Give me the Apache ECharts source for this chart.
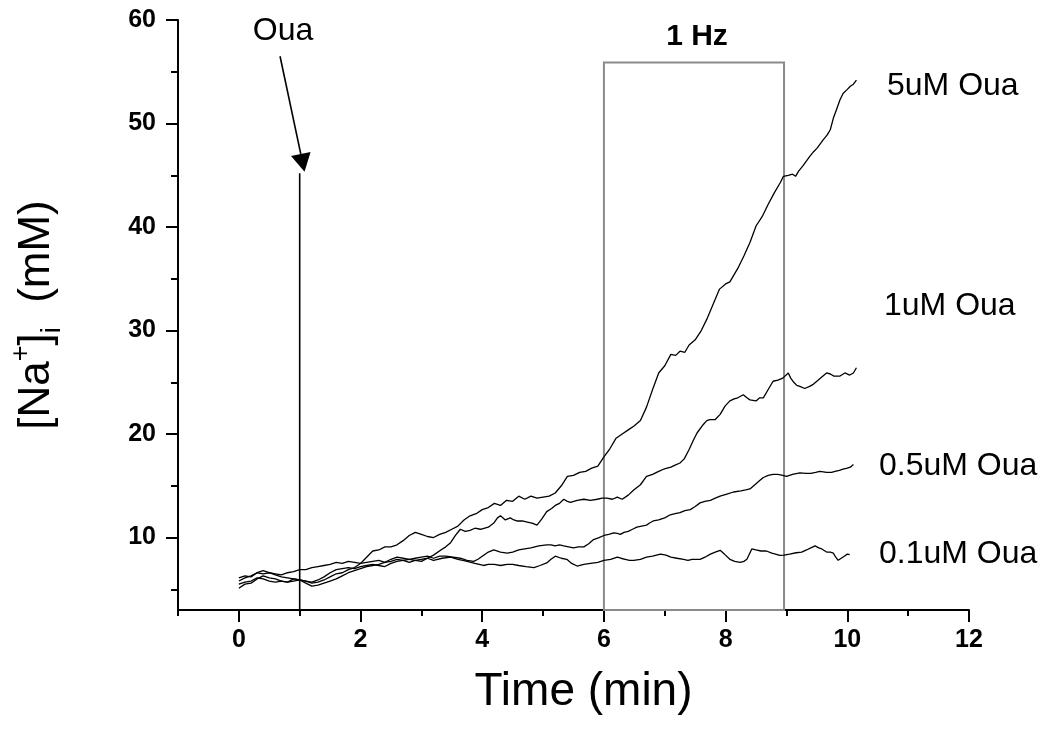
<!DOCTYPE html>
<html>
<head>
<meta charset="utf-8">
<script src="https://cdn.jsdelivr.net/npm/echarts@6/dist/echarts.min.js"></script>
<style>html,body{margin:0;padding:0;background:#fff;}#c{width:1050px;height:735px;}</style>
</head>
<body>
<div id="c"></div>
<script>
// ---- data ----
const xLabels = [0, 2, 4, 6, 8, 10, 12];
const xMinorTicks = [-1, 1, 3, 5, 7, 9, 11];
const yLabels = [10, 20, 30, 40, 50, 60];
const yMinorTicks = [5, 15, 25, 35, 45, 55];
const seriesNames = ['5uM Oua', '1uM Oua', '0.5uM Oua', '0.1uM Oua'];

const trace5uM = [[0,5.1],[0.1,5.5],[0.2,5.6],[0.3,6.0],[0.4,6.3],[0.5,6.1],[0.6,6.0],[0.7,5.8],[0.8,5.7],[0.9,6.0],[1.0,5.9],[1.1,5.8],[1.2,5.6],[1.3,5.7],[1.4,5.9],[1.5,6.2],[1.6,6.5],[1.7,6.6],[1.8,6.9],[1.9,7.1],[2.0,7.5],[2.1,8.1],[2.2,8.7],[2.3,8.8],[2.4,9.1],[2.5,9.1],[2.6,9.3],[2.7,9.7],[2.8,10.2],[2.9,10.5],[3.0,10.3],[3.1,10.1],[3.2,10.0],[3.3,10.3],[3.4,10.5],[3.5,10.8],[3.6,11.1],[3.7,11.7],[3.8,12.1],[3.9,12.3],[4.0,12.7],[4.1,12.9],[4.2,13.3],[4.3,13.1],[4.4,13.6],[4.5,13.5],[4.6,14.0],[4.7,13.7],[4.8,14.0],[4.9,13.8],[5.0,13.9],[5.1,14.0],[5.2,14.3],[5.3,15.0],[5.4,15.9],[5.5,16.0],[5.6,16.3],[5.7,16.4],[5.8,16.7],[5.9,16.9],[6.0,17.8],[6.1,18.6],[6.2,19.6],[6.3,20.0],[6.4,20.4],[6.5,20.8],[6.6,21.3],[6.7,22.6],[6.8,24.3],[6.9,25.9],[7.0,26.6],[7.1,27.7],[7.18,27.6],[7.25,28.0],[7.33,27.9],[7.4,28.6],[7.5,29.1],[7.6,30.0],[7.7,31.2],[7.8,32.6],[7.9,34.0],[8.0,34.5],[8.07,34.7],[8.13,35.3],[8.2,36.0],[8.3,37.2],[8.4,38.5],[8.5,40.1],[8.6,41.0],[8.7,42.2],[8.8,43.3],[8.9,44.3],[8.95,44.9],[9.03,45.0],[9.1,45.1],[9.15,44.9],[9.2,45.4],[9.27,45.9],[9.38,46.8],[9.45,47.3],[9.5,47.6],[9.6,48.4],[9.67,48.9],[9.72,49.4],[9.77,50.5],[9.82,51.3],[9.88,52.3],[9.93,52.9],[10.0,53.3],[10.05,53.6],[10.1,53.8],[10.15,54.2]];

const trace1uM = [[0,5.8],[0.1,6.1],[0.2,6.3],[0.3,6.6],[0.4,6.5],[0.5,6.6],[0.6,6.5],[0.7,6.4],[0.8,6.6],[0.9,6.7],[1.0,6.9],[1.1,6.9],[1.2,7.1],[1.3,7.2],[1.4,7.3],[1.5,7.4],[1.6,7.6],[1.7,7.5],[1.8,7.7],[1.9,7.6],[2.0,7.5],[2.1,7.6],[2.2,7.7],[2.3,7.8],[2.4,7.6],[2.5,7.9],[2.6,8.1],[2.7,8.0],[2.8,7.9],[2.9,7.8],[3.0,7.7],[3.1,8.0],[3.2,8.3],[3.32,8.8],[3.4,9.1],[3.48,9.5],[3.56,10.2],[3.64,10.8],[3.72,10.6],[3.8,10.7],[3.88,10.9],[3.97,10.8],[4.1,11.0],[4.19,11.4],[4.25,11.9],[4.3,12.1],[4.38,11.7],[4.46,11.9],[4.52,11.7],[4.57,11.6],[4.66,11.6],[4.74,11.5],[4.82,11.4],[4.9,11.2],[4.98,11.8],[5.06,12.5],[5.14,12.8],[5.2,13.1],[5.27,13.3],[5.34,13.7],[5.4,13.5],[5.45,13.4],[5.56,13.6],[5.67,13.7],[5.78,13.6],[5.89,13.7],[5.97,13.8],[6.05,13.8],[6.14,13.7],[6.22,13.9],[6.3,13.7],[6.4,14.1],[6.49,14.6],[6.6,15.1],[6.7,15.9],[6.8,16.1],[6.9,16.4],[6.98,16.6],[7.1,16.8],[7.17,17.0],[7.25,17.2],[7.32,17.6],[7.4,18.5],[7.47,19.4],[7.53,20.1],[7.63,20.9],[7.69,21.3],[7.74,21.4],[7.83,21.4],[7.91,21.9],[7.99,22.7],[8.07,23.2],[8.14,23.4],[8.2,23.5],[8.29,23.8],[8.35,23.5],[8.4,23.3],[8.5,23.2],[8.56,23.5],[8.62,23.5],[8.7,24.3],[8.78,25.1],[8.86,25.2],[8.94,25.4],[9.03,25.9],[9.07,25.4],[9.12,25.0],[9.17,24.7],[9.22,24.6],[9.3,24.4],[9.38,24.6],[9.44,24.8],[9.5,25.1],[9.58,25.5],[9.66,25.9],[9.72,25.8],[9.78,25.6],[9.88,25.6],[9.96,25.9],[10.04,25.7],[10.1,25.9],[10.15,26.4]];

const trace05uM = [[0,6.1],[0.1,6.3],[0.2,6.2],[0.3,6.6],[0.4,6.8],[0.5,6.6],[0.6,6.4],[0.7,6.2],[0.8,6.1],[0.9,6.0],[1.0,5.9],[1.1,5.8],[1.2,5.7],[1.3,5.9],[1.4,6.2],[1.5,6.6],[1.6,6.9],[1.7,7.0],[1.8,7.1],[1.9,7.0],[2.0,7.2],[2.1,7.3],[2.2,7.4],[2.3,7.3],[2.4,7.2],[2.5,7.5],[2.6,7.7],[2.7,7.8],[2.8,7.9],[2.9,8.0],[3.0,8.1],[3.1,8.2],[3.2,8.0],[3.3,8.2],[3.4,8.2],[3.52,8.1],[3.64,8.0],[3.75,7.8],[3.86,7.7],[3.93,7.9],[4.0,8.2],[4.1,8.6],[4.19,8.8],[4.3,8.6],[4.41,8.5],[4.5,8.6],[4.6,8.8],[4.7,8.9],[4.8,9.0],[4.93,9.2],[5.06,9.3],[5.13,9.3],[5.2,9.2],[5.27,9.3],[5.34,9.2],[5.42,9.1],[5.5,9.0],[5.58,9.1],[5.67,9.1],[5.75,9.4],[5.83,9.8],[5.92,10.0],[6.0,10.2],[6.08,10.3],[6.16,10.45],[6.22,10.4],[6.27,10.3],[6.33,10.5],[6.4,10.6],[6.47,10.8],[6.54,11.0],[6.62,11.1],[6.7,11.2],[6.75,11.4],[6.81,11.6],[6.9,11.7],[7.0,11.9],[7.09,12.2],[7.17,12.3],[7.25,12.4],[7.33,12.6],[7.42,12.7],[7.5,13.0],[7.58,13.35],[7.66,13.5],[7.75,13.6],[7.83,13.8],[7.91,14.0],[8.02,14.2],[8.13,14.4],[8.25,14.5],[8.33,14.6],[8.4,14.7],[8.5,15.2],[8.56,15.5],[8.62,15.8],[8.7,16.0],[8.78,16.1],[8.86,16.1],[8.94,16.0],[9.0,15.9],[9.1,16.1],[9.22,16.25],[9.32,16.2],[9.4,16.2],[9.48,16.3],[9.55,16.4],[9.66,16.3],[9.74,16.3],[9.8,16.4],[9.87,16.5],[9.93,16.6],[10.0,16.7],[10.05,16.8],[10.1,17.05]];

const trace01uM = [[0,5.5],[0.1,5.7],[0.2,5.8],[0.3,6.1],[0.4,6.0],[0.5,5.8],[0.6,5.7],[0.7,5.8],[0.8,5.7],[0.9,5.8],[1.0,5.9],[1.1,5.6],[1.2,5.3],[1.3,5.4],[1.4,5.6],[1.5,5.8],[1.6,6.0],[1.7,6.3],[1.8,6.6],[1.9,6.8],[2.0,7.0],[2.1,7.2],[2.2,7.3],[2.3,7.4],[2.4,7.6],[2.5,7.7],[2.6,7.9],[2.7,7.8],[2.8,7.6],[2.9,7.8],[3.0,7.9],[3.1,8.0],[3.2,7.8],[3.34,8.0],[3.48,8.1],[3.6,7.9],[3.68,7.8],[3.75,7.7],[3.88,7.5],[4.02,7.3],[4.1,7.4],[4.2,7.4],[4.3,7.3],[4.41,7.4],[4.5,7.4],[4.6,7.3],[4.72,7.2],[4.85,7.1],[4.95,7.3],[5.06,7.55],[5.13,7.9],[5.2,8.2],[5.3,8.0],[5.39,7.9],[5.47,7.5],[5.56,7.25],[5.67,7.4],[5.78,7.5],[5.9,7.6],[6.0,7.8],[6.11,7.9],[6.22,8.1],[6.28,8.0],[6.35,7.9],[6.42,7.8],[6.49,7.8],[6.6,7.9],[6.7,8.1],[6.8,8.2],[6.93,8.4],[7.02,8.3],[7.1,8.1],[7.2,8.0],[7.31,7.9],[7.38,7.8],[7.45,7.9],[7.58,7.9],[7.66,8.1],[7.75,8.4],[7.83,8.6],[7.91,8.77],[7.98,8.4],[8.07,7.9],[8.15,7.7],[8.24,7.6],[8.3,7.7],[8.35,7.9],[8.43,8.9],[8.5,8.8],[8.58,8.7],[8.67,8.7],[8.76,8.5],[8.82,8.4],[8.89,8.27],[8.96,8.3],[9.05,8.4],[9.16,8.53],[9.25,8.6],[9.33,8.8],[9.4,9.0],[9.47,9.2],[9.53,9.0],[9.58,8.9],[9.66,8.6],[9.72,8.6],[9.77,8.5],[9.81,8.1],[9.85,7.8],[9.9,8.0],[9.95,8.2],[10.0,8.4],[10.04,8.35]];

const ouaLine = [[1, 3], [1, 45.2]];           // vertical marker at Oua application
const ouaArrow = [[0.677, 56.5], [1.049, 46.2]]; // arrow from label to marker
const stimBox = [[6, 3], [8.96, 55.9]];         // 1 Hz stimulation period

const traces = [trace5uM, trace1uM, trace05uM, trace01uM];

const chart = echarts.init(document.getElementById('c'), null, {renderer: 'canvas'});
const FONT = '"Liberation Sans", Arial, sans-serif';

const lineSeries = traces.map((d, i) => ({
  name: seriesNames[i],
  type: 'line',
  data: d,
  showSymbol: false,
  symbol: 'none',
  lineStyle: {color: '#000', width: 1.3},
  z: 3,
  silent: true
}));

lineSeries.push({
  type: 'line',
  data: ouaLine,
  showSymbol: false,
  symbol: 'none',
  lineStyle: {color: '#000', width: 1.6},
  silent: true,
  markLine: {
    silent: true,
    symbol: ['none', 'triangle'],
    symbolSize: [20, 18],
    label: {show: false},
    lineStyle: {color: '#000', width: 1.6, type: 'solid'},
    data: [[{coord: ouaArrow[0]}, {coord: ouaArrow[1]}]]
  },
  markArea: {
    silent: true,
    itemStyle: {color: 'rgba(0,0,0,0)', borderColor: '#8a8a8a', borderWidth: 2},
    label: {show: false},
    data: [[{coord: stimBox[0]}, {coord: stimBox[1]}]]
  }
});

const axisCommon = {
  type: 'value',
  splitLine: {show: false},
  axisLine: {show: false, onZero: false},
  axisLabel: {show: false},
  axisTick: {show: false}
};

chart.setOption({
  animation: false,
  backgroundColor: '#fff',
  grid: {left: 177, top: 20, width: 792, height: 590, containLabel: false},
  xAxis: [
    Object.assign({}, axisCommon, {
      min: -1, max: 12, position: 'bottom',
      axisLine: {show: true, onZero: false, lineStyle: {color: '#000', width: 2}},
      axisTick: {show: true, length: 12, lineStyle: {color: '#000', width: 2}, customValues: xLabels},
      axisLabel: {show: true, customValues: xLabels, margin: 18, color: '#000',
        fontFamily: FONT, fontWeight: 'bold', fontSize: 25},
      name: 'Time (min)', nameLocation: 'middle', nameGap: 59,
      nameTextStyle: {fontFamily: FONT, fontSize: 46, color: '#000', padding: [0, 0, 0, 20]}
    }),
    Object.assign({}, axisCommon, {
      min: -1, max: 12, position: 'bottom',
      axisTick: {show: true, length: 6, lineStyle: {color: '#000', width: 2}, customValues: xMinorTicks}
    })
  ],
  yAxis: [
    Object.assign({}, axisCommon, {
      min: 3, max: 60, position: 'left',
      axisLine: {show: true, onZero: false, lineStyle: {color: '#000', width: 2}},
      axisTick: {show: true, length: 12, lineStyle: {color: '#000', width: 2}, customValues: yLabels},
      axisLabel: {show: true, customValues: yLabels, margin: 22, color: '#000',
        fontFamily: FONT, fontWeight: 'bold', fontSize: 25},
      name: '[Na{sup|+}]{sub|i}  (mM)', nameLocation: 'middle', nameGap: 112,
      nameTextStyle: {fontFamily: FONT, fontSize: 44, color: '#000', lineHeight: 58,
        rich: {
          sup: {fontFamily: FONT, fontSize: 27, color: '#000', verticalAlign: 'top', lineHeight: 58, padding: [0, 0, 18, 0]},
          sub: {fontFamily: FONT, fontSize: 27, color: '#000', verticalAlign: 'bottom', lineHeight: 58, padding: [14, 0, 0, 0]}
        }}
    }),
    Object.assign({}, axisCommon, {
      min: 3, max: 60, position: 'left',
      axisTick: {show: true, length: 7, lineStyle: {color: '#000', width: 2}, customValues: yMinorTicks}
    })
  ],
  series: lineSeries,
  graphic: [
    {type: 'text', x: 283, y: 31, style: {text: 'Oua', fontFamily: FONT, fontSize: 32, fill: '#000', align: 'center', verticalAlign: 'middle'}},
    {type: 'text', x: 697, y: 37, style: {text: '1 Hz', fontFamily: FONT, fontSize: 30, fontWeight: 'bold', fill: '#000', align: 'center', verticalAlign: 'middle'}},
    {type: 'text', x: 887, y: 86, style: {text: seriesNames[0], fontFamily: FONT, fontSize: 32, fill: '#000', align: 'left', verticalAlign: 'middle'}},
    {type: 'text', x: 884, y: 306, style: {text: seriesNames[1], fontFamily: FONT, fontSize: 32, fill: '#000', align: 'left', verticalAlign: 'middle'}},
    {type: 'text', x: 879, y: 466, style: {text: seriesNames[2], fontFamily: FONT, fontSize: 32, fill: '#000', align: 'left', verticalAlign: 'middle'}},
    {type: 'text', x: 879, y: 554, style: {text: seriesNames[3], fontFamily: FONT, fontSize: 32, fill: '#000', align: 'left', verticalAlign: 'middle'}}
  ]
});
</script>
</body>
</html>
